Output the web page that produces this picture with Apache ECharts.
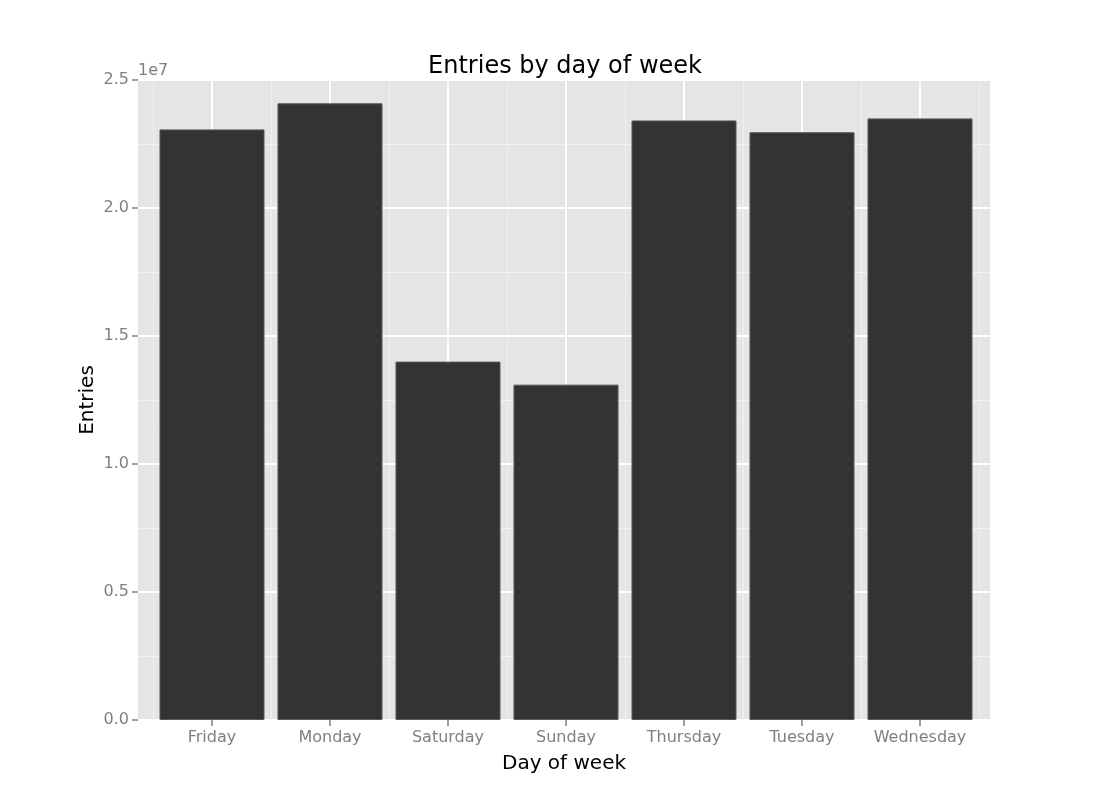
<!DOCTYPE html>
<html>
<head>
<meta charset="utf-8">
<script src="https://cdn.jsdelivr.net/npm/echarts@6/dist/echarts.min.js"></script>
<style>
  html, body { margin: 0; padding: 0; background: #ffffff; }
  #chart { width: 1100px; height: 800px; }
</style>
</head>
<body>
<div id="chart"></div>
<script>
const days = ['Friday', 'Monday', 'Saturday', 'Sunday', 'Thursday', 'Tuesday', 'Wednesday'];
const entries = [23070000, 24090000, 14000000, 13100000, 23420000, 22960000, 23500000];
const yTickLabels = ['0.0', '0.5', '1.0', '1.5', '2.0', '2.5'];

const FONT = 'DejaVu Sans';
const GREY = '#7f7f7f';
const chart = echarts.init(document.getElementById('chart'), null, { renderer: 'canvas' });

chart.setOption({
  backgroundColor: '#ffffff',
  animation: false,
  textStyle: { fontFamily: FONT },
  title: {
    text: 'Entries by day of week',
    left: 560,
    textAlign: 'center',
    top: 50,
    textStyle: { fontFamily: FONT, fontSize: 24, fontWeight: 'normal', color: '#000000' }
  },
  grid: [
    { left: 138, right: 110, top: 80, bottom: 80, show: true, backgroundColor: '#e5e5e5', borderWidth: 0 },
    { left: 153, right: 121, top: 80, bottom: 80, show: false }
  ],
  xAxis: [
    {
      gridIndex: 0, type: 'value', min: 0, max: 1, position: 'bottom',
      name: 'Day of week', nameLocation: 'middle', nameGap: 34,
      nameTextStyle: { fontFamily: FONT, fontSize: 20, color: '#000000' },
      axisLine: { show: false }, axisTick: { show: false },
      axisLabel: { show: false }, splitLine: { show: false }
    },
    {
      gridIndex: 1, type: 'category', data: days, boundaryGap: true, position: 'bottom',
      axisLine: { show: false },
      axisTick: { show: false },
      axisLabel: { show: false },
      splitLine: { show: true, interval: 0, lineStyle: { color: '#f2f2f2', width: 1 } }
    },
    {
      gridIndex: 1, type: 'category', data: days, boundaryGap: true, position: 'bottom',
      axisLine: { show: false },
      axisTick: { show: true, interval: 0, alignWithLabel: true, length: 6, lineStyle: { color: GREY, width: 1.5 } },
      axisLabel: { show: true, interval: 0, color: GREY, fontFamily: FONT, fontSize: 16, margin: 10 },
      splitLine: { show: true, interval: 0, alignWithLabel: true, lineStyle: { color: '#ffffff', width: 2 } }
    }
  ],
  yAxis: [
    {
      gridIndex: 0, type: 'value', min: 0, max: 25000000, interval: 5000000,
      name: '1e7', nameLocation: 'end', nameGap: 1,
      nameTextStyle: { fontFamily: FONT, fontSize: 16, color: GREY, align: 'left', verticalAlign: 'bottom' },
      axisLine: { show: false },
      axisTick: { show: true, length: 6, lineStyle: { color: GREY, width: 1.5 } },
      axisLabel: {
        color: GREY, fontFamily: FONT, fontSize: 16, margin: 9,
        formatter: function (v) { return yTickLabels[Math.round(v / 5000000)]; }
      },
      splitLine: { show: true, lineStyle: { color: '#ffffff', width: 2 } },
      minorTick: { show: false, splitNumber: 2 },
      minorSplitLine: { show: true, lineStyle: { color: '#f2f2f2', width: 1 } }
    },
    {
      gridIndex: 1, type: 'value', min: 0, max: 25000000,
      name: 'Entries', nameLocation: 'middle', nameGap: 55,
      nameTextStyle: { fontFamily: FONT, fontSize: 20, color: '#000000' },
      axisLine: { show: false }, axisTick: { show: false },
      axisLabel: { show: false }, splitLine: { show: false }
    }
  ],
  series: [{
    type: 'bar',
    xAxisIndex: 2,
    yAxisIndex: 1,
    data: entries,
    barCategoryGap: '11%',
    itemStyle: { color: '#333333', borderColor: '#595959', borderWidth: 1 }
  }]
});
</script>
</body>
</html>
